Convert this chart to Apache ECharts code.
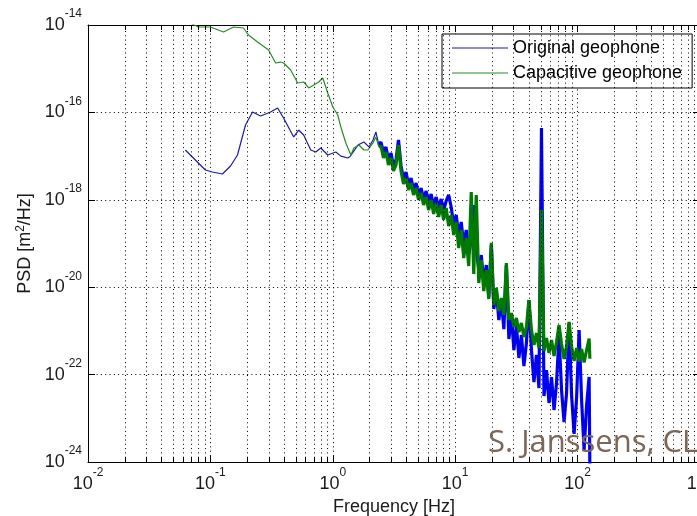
<!DOCTYPE html>
<html><head><meta charset="utf-8">
<script src="https://cdn.jsdelivr.net/npm/echarts@6/dist/echarts.min.js"></script>
<style>html,body{margin:0;padding:0;background:#fff}#c{width:697px;height:516px}</style>
</head><body><div id="c"></div>
<script>
// ---- data (Hz, m^2/Hz) ----
const freqLowBlue = [0.0624, 0.091, 0.1038, 0.1254, 0.146, 0.1665, 0.1936, 0.2208, 0.257, 0.3104, 0.354, 0.396, 0.479, 0.526, 0.578, 0.661, 0.726, 0.798, 0.91, 1.059, 1.164, 1.328, 1.39, 1.603, 1.795, 1.973, 2.13, 2.25, 2.38];
const psdLowBlue = [1.38e-17, 4.81e-18, 4.33e-18, 3.89e-18, 5.93e-18, 1.06e-17, 5.15e-17, 1.02e-16, 8.28e-17, 1.02e-16, 1.26e-16, 7.45e-17, 2.74e-17, 3.95e-17, 3.04e-17, 1.38e-17, 1.24e-17, 1.53e-17, 1.06e-17, 1.24e-17, 1.0e-17, 9.05e-18, 1.0e-17, 1.79e-17, 2.1e-17, 1.62e-17, 2.33e-17, 3.56e-17, 1.79e-17];

const freqLowGreen = [0.0624, 0.0712, 0.0797, 0.1, 0.128, 0.1544, 0.1865, 0.2049, 0.2428, 0.2988, 0.3411, 0.3748, 0.3966, 0.4527, 0.5168, 0.5785, 0.6358, 0.6988, 0.7678, 0.8279, 0.91, 1.0, 1.099, 1.163, 1.278, 1.404, 1.486, 1.634, 1.795, 1.936, 2.128, 2.25, 2.38];
const psdLowGreen = [1.3e-14, 1.05e-14, 9.0e-15, 9.0e-15, 6.91e-15, 9.0e-15, 8.54e-15, 5.9e-15, 4.08e-15, 2.68e-15, 1.35e-15, 1.42e-15, 1.35e-15, 9.34e-16, 4.71e-16, 4.96e-16, 3.62e-16, 4.24e-16, 4.96e-16, 6.13e-16, 2.78e-16, 1.33e-16, 8.72e-17, 4.63e-17, 2.0e-17, 1.06e-17, 1.53e-17, 1.79e-17, 1.38e-17, 1.38e-17, 2.0e-17, 2.74e-17, 1.61e-17];

const freqHigh = [2.474, 2.594, 2.719, 2.850, 2.988, 3.132, 3.284, 3.442, 3.609, 3.783, 3.966, 4.157, 4.359, 4.569, 4.790, 5.021, 5.264, 5.518, 5.786, 6.065, 6.358, 6.665, 6.988, 7.325, 7.678, 8.049, 8.438, 8.845, 9.273, 9.720, 10.19, 10.68, 11.20, 11.74, 12.31, 12.90, 13.52, 14.18, 14.86, 15.58, 16.33, 17.12, 17.95, 18.81, 19.73, 20.68, 21.68, 22.73, 23.83, 24.98, 26.18, 27.45, 28.78, 30.17, 31.62, 33.15, 34.75, 36.43, 38.19, 40.04, 41.97, 44.00, 46.12, 48.35, 50.69, 53.14, 55.71, 58.40, 61.22, 64.18, 67.28, 70.53, 73.94, 77.51, 81.26, 85.18, 89.30, 93.61, 98.13, 102.9, 107.8, 113.0, 118.5, 124.2, 126.0];
const psdHighBlue = [2.10e-17, 1.24e-17, 1.61e-17, 8.15e-18, 1.18e-17, 5.93e-18, 8.15e-18, 2.34e-17, 5.93e-18, 2.99e-18, 4.33e-18, 2.18e-18, 3.15e-18, 1.68e-18, 2.42e-18, 1.29e-18, 1.86e-18, 1.04e-18, 1.59e-18, 8.45e-19, 1.36e-18, 7.22e-19, 1.16e-18, 6.49e-19, 1.04e-18, 5.84e-19, 9.39e-19, 1.29e-18, 6.84e-19, 2.65e-19, 4.49e-19, 1.565e-19, 3.10e-19, 9.24e-20, 2.04e-19, 5.75e-20, 1.20e-19, 7.6e-19, 7.89e-20, 2.47e-20, 5.45e-20, 1.25e-20, 3.22e-20, 5.97e-21, 9.24e-20, 3.17e-21, 8.63e-21, 1.776e-21, 5.09e-21, 1.10e-21, 3.22e-20, 6.53e-22, 2.31e-21, 3.65e-22, 1.364e-21, 2.40e-22, 8.05e-22, 1.57e-22, 5.29e-22, 5.09e-21, 3.65e-22, 6.77e-23, 2.81e-22, 4.93e-23, 4.40e-17, 3.24e-23, 1.27e-22, 2.24e-23, 8.81e-23, 1.55e-23, 6.43e-23, 8.05e-22, 4.44e-23, 8.22e-24, 3.79e-23, 1.52e-21, 3.41e-23, 4.37e-24, 2.92e-23, 1.048e-21, 2.62e-23, 1.88e-24, 2.01e-23, 8.81e-23, 6e-25];
const psdHighGreen = [1.70e-17, 9.06e-18, 1.24e-17, 6.26e-18, 9.06e-18, 4.56e-18, 6.26e-18, 1.79e-17, 4.56e-18, 2.30e-18, 3.15e-18, 1.68e-18, 2.42e-18, 1.29e-18, 1.86e-18, 9.9e-19, 1.43e-18, 7.6e-19, 1.16e-18, 5.84e-19, 9.9e-19, 4.73e-19, 8.45e-19, 4.04e-19, 7.6e-19, 3.45e-19, 6.49e-19, 2.51e-19, 4.49e-19, 1.565e-19, 3.10e-19, 7.89e-20, 2.04e-19, 4.66e-20, 1.34e-19, 3.05e-20, 1.51e-18, 2.01e-20, 1.29e-18, 1.25e-20, 4.19e-20, 8.18e-21, 2.47e-20, 5.37e-21, 1.03e-19, 3.91e-21, 9.59e-21, 2.85e-21, 5.66e-21, 2.31e-21, 3.58e-20, 1.776e-21, 2.57e-21, 1.23e-21, 1.97e-21, 9.44e-22, 1.52e-21, 7.25e-22, 1.23e-21, 5.09e-21, 1.048e-21, 4.75e-22, 8.95e-22, 4.06e-22, 5.84e-19, 3.47e-22, 6.88e-22, 3.12e-22, 6.19e-22, 2.67e-22, 5.57e-22, 1.364e-21, 5.01e-22, 2.28e-22, 4.51e-22, 1.60e-21, 4.40e-22, 2.05e-22, 4.06e-22, 2.0e-22, 3.85e-22, 1.9e-22, 3.65e-22, 6.7e-22, 2.3e-22];

// axis extents (decade exponents) and minor grid frequencies
const xDecades = [-2, 3];
const yDecades = [-24, -14];
const minorFreqs = [0.02,0.03,0.04,0.05,0.06,0.07,0.08,0.09, 0.2,0.3,0.4,0.5,0.6,0.7,0.8,0.9, 2,3,4,5,6,7,8,9, 20,30,40,50,60,70,80,90, 200,300,400,500,600,700,800,900];
const seriesNames = ['Original geophone', 'Capacitive geophone'];

// ---- chart (log-log: both axes carry decade exponents) ----
const FONT = 'Liberation Sans';
const lg = Math.log10;
const pairs = (f, v) => f.map((x, i) => [lg(x), lg(v[i])]);
const blueLow = pairs(freqLowBlue, psdLowBlue);
const greenLow = pairs(freqLowGreen, psdLowGreen);
// the dense part continues from the last low-frequency point
const blueHigh = blueLow.slice(-1).concat(pairs(freqHigh, psdHighBlue));
const greenHigh = greenLow.slice(-1).concat(pairs(freqHigh, psdHighGreen));

const expFmt = v => '{a|10}{b|' + Math.round(v) + '}';
const rich = {
  a: {fontSize: 18, fontFamily: FONT, color: '#1a1a1a', verticalAlign: 'bottom'},
  b: {fontSize: 12, fontFamily: FONT, color: '#1a1a1a', verticalAlign: 'top', padding: [0, 0, 14, 0]}
};
const dotted = {type: [1, 3.3], color: '#000', width: 1};
const TICK = 5 / 43.7; // minor tick length expressed in decades of the y axis
const BLUE_THIN = '#1c1c9c', BLUE = '#0000f5', GREEN_THIN = '#2a8a2a', GREEN = '#007a00';

const chart = echarts.init(document.getElementById('c'), null, {renderer: 'canvas'});
chart.setOption({
  animation: false,
  backgroundColor: '#fff',
  grid: {left: 88, top: 25, width: 612, height: 437, containLabel: false, outerBoundsMode: 'none'},
  xAxis: [{
    type: 'value', min: xDecades[0], max: xDecades[1], interval: 1,
    name: 'Frequency [Hz]', nameLocation: 'middle', nameGap: 32,
    nameTextStyle: {fontSize: 18, fontFamily: FONT, color: '#1a1a1a'},
    axisLine: {show: true, onZero: false, lineStyle: {color: '#000', width: 1}},
    axisTick: {show: true, inside: true, length: 7, lineStyle: {color: '#000'}},
    axisLabel: {margin: 5, formatter: expFmt, rich: rich, showMinLabel: true, showMaxLabel: true, hideOverlap: false},
    splitLine: {show: true, lineStyle: dotted}
  }, {
    type: 'value', min: xDecades[0], max: xDecades[1], interval: 1, position: 'top',
    axisLine: {show: true, onZero: false, lineStyle: {color: '#000', width: 1}},
    axisTick: {show: true, inside: true, length: 7, lineStyle: {color: '#000'}},
    axisLabel: {show: false}, splitLine: {show: false}
  }],
  yAxis: [{
    type: 'value', min: yDecades[0], max: yDecades[1], interval: 2,
    name: 'PSD [m{s|2}/Hz]', nameLocation: 'middle', nameGap: 51, nameRotate: 90,
    nameTextStyle: {fontSize: 18, fontFamily: FONT, color: '#1a1a1a',
      rich: {s: {fontSize: 12, fontFamily: FONT, color: '#1a1a1a', verticalAlign: 'top', padding: [0, 0, 8, 0]}}},
    axisLine: {show: true, onZero: false, lineStyle: {color: '#000', width: 1}},
    axisTick: {show: true, inside: true, length: 7, lineStyle: {color: '#000'}},
    axisLabel: {margin: 6, formatter: expFmt, rich: rich, padding: [0, 0, 8, 0], showMinLabel: true, showMaxLabel: true},
    splitLine: {show: true, lineStyle: dotted}
  }, {
    type: 'value', min: yDecades[0], max: yDecades[1], interval: 2, position: 'right',
    axisLine: {show: true, onZero: false, lineStyle: {color: '#000', width: 1}},
    axisTick: {show: true, inside: true, length: 7, lineStyle: {color: '#000'}},
    axisLabel: {show: false}, splitLine: {show: false}
  }],
  legend: {
    data: seriesNames, orient: 'vertical', left: 442, top: 34,
    padding: [5, 10, 6, 10], itemGap: 7, itemWidth: 56, itemHeight: 1.2, icon: 'rect',
    backgroundColor: '#fff', borderColor: '#000', borderWidth: 1, borderRadius: 0,
    textStyle: {fontSize: 18, fontFamily: FONT, color: '#000', lineHeight: 18}
  },
  series: [{
    type: 'line', name: 'minor-grid', data: [], silent: true, z: 1,
    markLine: {silent: true, symbol: ['none', 'none'], label: {show: false}, animation: false, precision: 6,
      lineStyle: dotted, emphasis: {disabled: true},
      data: minorFreqs.map(v => ({xAxis: lg(v)}))}
  }, {
    type: 'line', name: 'minor-ticks', data: [], silent: true, z: 3,
    markLine: {silent: true, symbol: ['none', 'none'], label: {show: false}, animation: false, precision: 6,
      lineStyle: {type: 'solid', color: '#000', width: 1}, emphasis: {disabled: true},
      data: minorFreqs.map(v => [{coord: [lg(v), yDecades[0]]}, {coord: [lg(v), yDecades[0] + TICK]}])
        .concat(minorFreqs.map(v => [{coord: [lg(v), yDecades[1]]}, {coord: [lg(v), yDecades[1] - TICK]}]))}
  }, {
    type: 'line', name: seriesNames[0], data: blueLow, symbol: 'none', showSymbol: false, clip: true, z: 2,
    lineStyle: {color: BLUE_THIN, width: 1.2}, itemStyle: {color: BLUE_THIN}
  }, {
    type: 'line', name: seriesNames[0], data: blueHigh, symbol: 'none', showSymbol: false, clip: true, z: 2,
    lineStyle: {color: BLUE, width: 3.2, join: 'bevel'}, itemStyle: {color: BLUE}
  }, {
    type: 'line', name: seriesNames[1], data: greenLow, symbol: 'none', showSymbol: false, clip: true, z: 2,
    lineStyle: {color: GREEN_THIN, width: 1.2}, itemStyle: {color: GREEN_THIN}
  }, {
    type: 'line', name: seriesNames[1], data: greenHigh, symbol: 'none', showSymbol: false, clip: true, z: 2,
    lineStyle: {color: GREEN, width: 3.2, join: 'bevel'}, itemStyle: {color: GREEN}
  }],
  graphic: [{
    type: 'text', left: 488, top: 428, z: 100, silent: true,
    style: {text: 'S. Janssens, CLIC', fontSize: 31, fontFamily: 'Open Sans', fill: '#7b6658'}
  }]
});
</script></body></html>
